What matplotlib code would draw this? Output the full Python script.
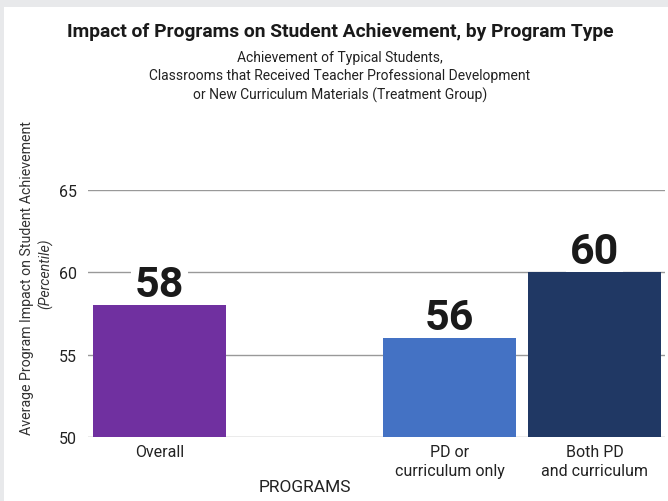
import matplotlib
matplotlib.use("Agg")
import matplotlib.pyplot as plt
from matplotlib.patches import Rectangle

categories = ["Overall", "PD or\ncurriculum only", "Both PD\nand curriculum"]
positions = [0, 2, 3]
values = [58, 56, 60]
colors = ["#7030A0", "#4472C4", "#203864"]
yticks = [50, 55, 60, 65]

plt.rcParams['font.family'] = ['Roboto', 'DejaVu Sans']

W, H = 668, 502
fig = plt.figure(figsize=(W / 100, H / 100), dpi=100, facecolor="#e8e9eb")
fig.patches.append(Rectangle((4 / W, 0), 1, 1 - 8 / H, transform=fig.transFigure,
                             facecolor="white", edgecolor="none", zorder=-10))

ax = fig.add_axes([88 / W, 1 - 438 / H, (665 - 88) / W, (438 - 191) / H])
ax.set_facecolor("none")
ax.bar(positions, [v - 50 for v in values], bottom=50, width=0.92, color=colors, zorder=3)
ax.set_xlim(-0.493, 3.486)
ax.set_ylim(50, 65)
ax.set_yticks(yticks)
ax.set_yticklabels([str(t) for t in yticks], fontsize=11.5, color="#222222")
ax.set_xticks(positions)
ax.set_xticklabels(categories, fontsize=11.5, color="#222222", linespacing=1.3)
ax.tick_params(axis="both", length=0)
ax.tick_params(axis="y", pad=8)
ax.tick_params(axis="x", pad=5)
ax.grid(axis="y", color="#999999", linewidth=1.0, zorder=0)
for s in ax.spines.values():
    s.set_visible(False)

for p, v in zip(positions, values):
    ax.annotate(str(v), xy=(p, v), xytext=(0, 6.5), textcoords="offset points",
                ha="center", va="baseline", fontsize=31, fontweight="bold", color="#1a1a1a",
                zorder=2,
                bbox=dict(boxstyle="square,pad=0.08", facecolor="white", edgecolor="none"))

ax.text(1, -0.2, "PROGRAMS", transform=ax.get_xaxis_transform(), ha="center", va="center",
        fontsize=12.5, color="#222222")

fig.text(340 / W, 1 - 32 / H, "Impact of Programs on Student Achievement, by Program Type",
         ha="center", va="center", fontsize=13.9, fontweight="bold", color="#1a1a1a")
fig.text(340 / W, 1 - 77 / H,
         "Achievement of Typical Students,\nClassrooms that Received Teacher Professional Development\nor New Curriculum Materials (Treatment Group)",
         ha="center", va="center", fontsize=10, color="#222222", linespacing=1.4)

fig.text(27 / W, 1 - 278 / H, "Average Program Impact on Student Achievement", rotation=90,
         ha="center", va="center", fontsize=10.2, color="#333333")
fig.text(46 / W, 1 - 274 / H, "(Percentile)", rotation=90, ha="center", va="center",
         fontsize=10.2, style="italic", color="#333333")

fig.savefig("out.png", dpi=100, facecolor=fig.get_facecolor())
